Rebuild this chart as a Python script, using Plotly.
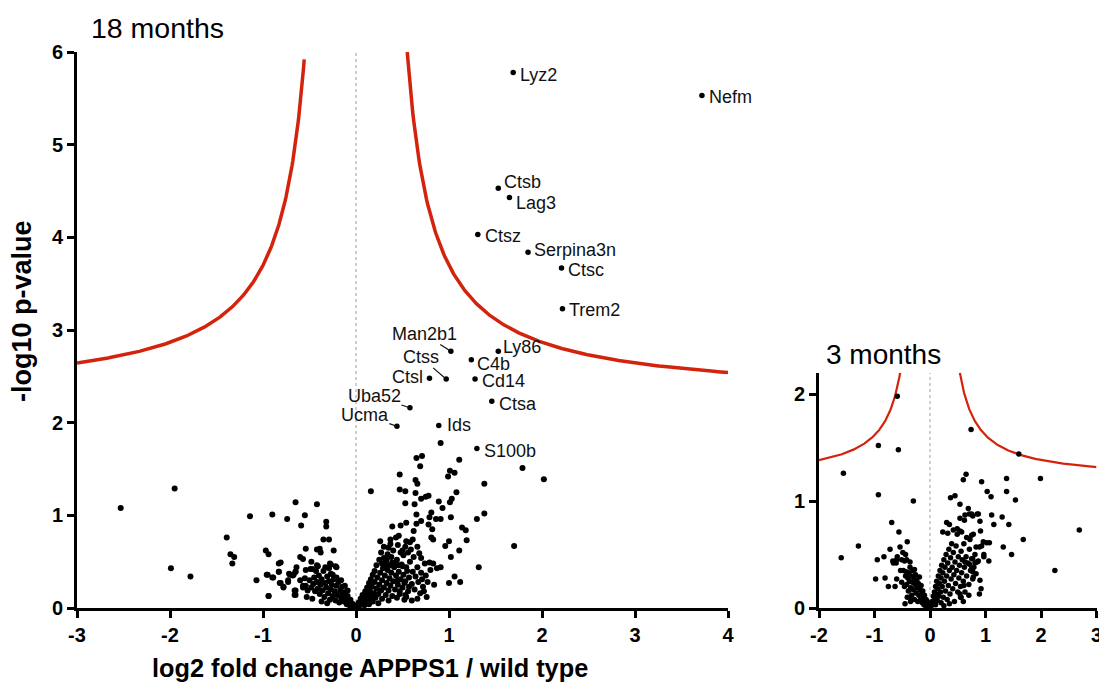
import numpy as np
import plotly.graph_objects as go

FONT = "Liberation Sans, Arial, Helvetica, sans-serif"
RED = "#d3230d"

# ---------------- 18 months: named, significant proteins ----------------
genes_18m = ["Lyz2", "Nefm", "Ctsb", "Lag3", "Ctsz", "Serpina3n", "Ctsc", "Trem2",
             "Man2b1", "Ly86", "C4b", "Ctss", "Ctsl", "Cd14", "Ctsa", "Uba52",
             "Ucma", "Ids", "S100b"]
lfc_genes_18m = [1.69, 3.72, 1.53, 1.65, 1.31, 1.85, 2.21, 2.22,
                 1.02, 1.53, 1.24, 0.97, 0.79, 1.28, 1.46, 0.58,
                 0.44, 0.89, 1.30]
nlp_genes_18m = [5.78, 5.53, 4.53, 4.43, 4.03, 3.84, 3.67, 3.23,
                 2.77, 2.77, 2.68, 2.47, 2.48, 2.47, 2.23, 2.16,
                 1.96, 1.97, 1.72]

# ---------------- 18 months: all other proteins ----------------
bg_18m = [
    # negative fold change
    (-2.53, 1.08), (-1.95, 1.29), (-1.99, 0.43), (-1.78, 0.34), (-1.39, 0.76),
    (-1.35, 0.58), (-1.31, 0.55), (-1.33, 0.48), (-1.14, 0.99), (-1.07, 0.30),
    (-0.97, 0.62), (-0.94, 0.58), (-0.90, 1.01), (-0.95, 0.36), (-0.90, 0.33),
    (-0.94, 0.13), (-0.83, 0.48), (-0.81, 0.49), (-0.83, 0.39), (-0.82, 0.27),
    (-0.78, 0.23), (-0.74, 0.96), (-0.73, 0.30), (-0.72, 0.37), (-0.67, 0.36),
    (-0.65, 1.14), (-0.65, 0.39), (-0.65, 0.19), (-0.65, 0.14), (-0.59, 0.89),
    (-0.60, 0.55), (-0.57, 0.53), (-0.55, 1.00), (-0.54, 0.64), (-0.54, 0.24),
    (-0.52, 0.19), (-0.48, 0.50), (-0.47, 0.42), (-0.42, 1.12), (-0.42, 0.63),
    (-0.39, 0.64), (-0.38, 0.60), (-0.42, 0.46), (-0.32, 0.93), (-0.32, 0.88),
    (-0.35, 0.74), (-0.29, 0.74), (-0.24, 0.62), (-0.28, 0.48), (-0.22, 0.45),
    (-0.64, 0.44), (-0.21, 0.44), (-0.54, 0.41), (-0.49, 0.42), (-0.41, 0.45),
    (-0.27, 0.47), (-0.96, 0.36), (-0.89, 0.33), (-0.83, 0.39), (-0.71, 0.36),
    (-0.68, 0.35), (-0.65, 0.39), (-0.73, 0.28), (-0.81, 0.27), (-0.78, 0.22),
    (-0.66, 0.19), (-0.57, 0.24), (-0.66, 0.14), (-0.94, 0.13),
    (-0.50, 0.30), (-0.48, 0.22), (-0.46, 0.26), (-0.45, 0.33), (-0.44, 0.18),
    (-0.42, 0.28), (-0.41, 0.21), (-0.40, 0.35), (-0.39, 0.15), (-0.38, 0.25),
    (-0.37, 0.31), (-0.36, 0.19), (-0.35, 0.40), (-0.34, 0.12), (-0.33, 0.27),
    (-0.32, 0.22), (-0.31, 0.34), (-0.30, 0.16), (-0.29, 0.29), (-0.28, 0.09),
    (-0.27, 0.37), (-0.27, 0.20), (-0.26, 0.25), (-0.25, 0.13), (-0.24, 0.31),
    (-0.23, 0.18), (-0.22, 0.08), (-0.21, 0.24), (-0.20, 0.14), (-0.19, 0.28),
    (-0.18, 0.06), (-0.17, 0.19), (-0.16, 0.11), (-0.15, 0.23), (-0.14, 0.15),
    (-0.13, 0.07), (-0.12, 0.17), (-0.11, 0.10), (-0.10, 0.04), (-0.09, 0.13),
    (-0.08, 0.07), (-0.07, 0.03), (-0.06, 0.09), (-0.05, 0.05), (-0.04, 0.02),
    (-0.03, 0.04), (-0.02, 0.01), (-0.53, 0.12), (-0.47, 0.10), (-0.43, 0.40),
    (-0.37, 0.07), (-0.33, 0.44), (-0.29, 0.43), (-0.25, 0.36), (-0.31, 0.05),
    (-0.21, 0.33), (-0.16, 0.30), (-0.12, 0.24), (-0.09, 0.19), (-0.60, 0.30),
    (-0.57, 0.22), (-0.55, 0.32),
    # positive fold change, upper part
    (0.91, 1.78), (0.65, 1.62), (0.71, 1.64), (0.69, 1.53), (1.11, 1.60),
    (1.01, 1.48), (1.06, 1.46), (0.47, 1.44), (1.79, 1.51), (2.02, 1.39),
    (0.99, 1.42), (0.64, 1.38), (0.66, 1.34), (0.16, 1.26), (0.47, 1.28),
    (0.53, 1.26), (0.64, 1.24), (1.08, 1.25), (0.53, 1.13), (0.63, 1.12),
    (0.70, 1.18), (0.75, 1.20), (0.78, 1.21), (0.89, 1.15), (1.03, 1.18),
    (1.01, 1.14), (0.93, 1.08), (0.65, 1.01), (0.81, 1.03), (0.79, 0.98),
    (0.86, 0.96), (0.91, 0.96), (1.02, 0.98), (1.38, 1.34), (1.30, 0.96),
    (1.38, 1.02), (0.39, 0.88), (0.48, 0.89), (0.54, 0.92), (0.65, 0.91),
    (0.70, 0.94), (0.62, 0.83), (0.78, 0.90), (0.82, 0.85), (1.14, 0.87),
    (1.18, 0.84), (0.81, 0.76), (0.83, 0.74), (0.26, 0.72), (0.37, 0.74),
    (0.43, 0.76), (0.46, 0.78), (0.35, 0.65), (0.37, 0.69), (0.54, 0.72),
    (0.58, 0.71), (0.61, 0.74), (0.53, 0.66), (0.59, 0.63), (0.48, 0.60),
    (0.51, 0.57), (0.66, 0.66), (0.68, 0.59), (0.70, 0.54), (0.96, 0.67),
    (1.00, 0.72), (1.19, 0.73), (1.02, 0.55), (1.11, 0.62), (1.70, 0.67),
    (1.32, 0.44), (1.06, 0.34), (1.00, 0.27), (1.12, 0.28), (0.74, 0.48),
    (0.79, 0.49), (0.83, 0.48), (0.80, 0.41), (0.87, 0.43), (0.91, 0.44),
    (0.71, 0.31), (0.84, 0.25), (0.69, 0.16), (0.54, 0.12), (0.44, 0.11),
    (0.30, 0.54), (0.33, 0.52), (0.28, 0.48), (0.32, 0.45), (0.36, 0.46),
    (0.39, 0.49), (0.43, 0.47), (0.46, 0.46), (0.50, 0.45), (0.54, 0.44),
    (0.45, 0.30), (0.52, 0.27), (0.57, 0.23), (0.47, 0.18), (0.53, 0.14),
    # positive fold change, dense region near zero
    (0.02, 0.02), (0.03, 0.06), (0.04, 0.03), (0.05, 0.10), (0.06, 0.05),
    (0.07, 0.14), (0.08, 0.08), (0.09, 0.03), (0.10, 0.18), (0.10, 0.11),
    (0.11, 0.06), (0.12, 0.22), (0.12, 0.14), (0.13, 0.09), (0.14, 0.27),
    (0.14, 0.04), (0.15, 0.18), (0.16, 0.12), (0.16, 0.31), (0.17, 0.23),
    (0.18, 0.07), (0.18, 0.36), (0.19, 0.16), (0.20, 0.28), (0.20, 0.40),
    (0.21, 0.11), (0.22, 0.21), (0.22, 0.46), (0.23, 0.33), (0.24, 0.05),
    (0.24, 0.15), (0.25, 0.25), (0.25, 0.52), (0.26, 0.38), (0.27, 0.19),
    (0.27, 0.60), (0.28, 0.10), (0.28, 0.30), (0.29, 0.43), (0.30, 0.22),
    (0.30, 0.66), (0.31, 0.35), (0.32, 0.14), (0.32, 0.50), (0.33, 0.27),
    (0.34, 0.41), (0.34, 0.58), (0.35, 0.08), (0.35, 0.19), (0.36, 0.32),
    (0.37, 0.24), (0.38, 0.55), (0.38, 0.38), (0.39, 0.13), (0.40, 0.29),
    (0.40, 0.62), (0.41, 0.44), (0.42, 0.20), (0.43, 0.35), (0.44, 0.52),
    (0.45, 0.25), (0.46, 0.39), (0.47, 0.15), (0.48, 0.31), (0.49, 0.47),
    (0.50, 0.22), (0.51, 0.36), (0.52, 0.09), (0.53, 0.29), (0.55, 0.40),
    (0.56, 0.18), (0.57, 0.33), (0.58, 0.50), (0.60, 0.26), (0.61, 0.39),
    (0.63, 0.20), (0.64, 0.34), (0.66, 0.44), (0.67, 0.28), (0.70, 0.38),
    (0.72, 0.23), (0.75, 0.35), (0.77, 0.28), (0.62, 0.55), (0.56, 0.60),
    (0.45, 0.68), (0.50, 0.62), (0.60, 0.08), (0.66, 0.10), (0.73, 0.18),
    (0.76, 0.12),
]

# ---------------- 3 months: all proteins ----------------
bg_3m = [
    (-1.56, 1.26), (-0.93, 1.52), (-0.57, 1.48), (-0.59, 1.98), (-0.93, 1.06),
    (-0.30, 1.00), (-1.60, 0.47), (-1.29, 0.58), (-0.69, 0.80), (-0.56, 0.71),
    (-0.41, 0.62), (-0.54, 0.57), (-0.72, 0.55), (-0.83, 0.48), (-0.95, 0.45),
    (-0.98, 0.27), (-0.81, 0.28), (-0.75, 0.20), (-0.63, 0.20), (-0.59, 0.48),
    (-0.49, 0.52), (-0.44, 0.50), (-0.66, 0.42), (-0.60, 0.45), (-0.51, 0.45),
    (-0.67, 0.44), (-0.61, 0.42), (-0.46, 0.44), (-0.42, 0.45), (-0.36, 0.43),
    (-0.60, 0.27), (-0.51, 0.24), (-0.53, 0.35), (-0.48, 0.35), (-0.43, 0.34),
    (-0.45, 0.04), (-0.37, 0.10),
    (-0.44, 0.30), (-0.42, 0.22), (-0.40, 0.28), (-0.39, 0.16), (-0.38, 0.33),
    (-0.37, 0.25), (-0.35, 0.19), (-0.34, 0.30), (-0.33, 0.12), (-0.32, 0.24),
    (-0.31, 0.35), (-0.30, 0.17), (-0.29, 0.28), (-0.28, 0.08), (-0.27, 0.22),
    (-0.26, 0.31), (-0.25, 0.14), (-0.24, 0.26), (-0.23, 0.19), (-0.22, 0.06),
    (-0.21, 0.23), (-0.20, 0.12), (-0.19, 0.29), (-0.18, 0.17), (-0.17, 0.08),
    (-0.16, 0.21), (-0.15, 0.13), (-0.14, 0.05), (-0.13, 0.16), (-0.12, 0.10),
    (-0.11, 0.03), (-0.10, 0.12), (-0.09, 0.07), (-0.08, 0.02), (-0.07, 0.08),
    (-0.06, 0.04), (-0.05, 0.06), (-0.04, 0.02), (-0.03, 0.03), (-0.02, 0.01),
    (-0.46, 0.20), (-0.41, 0.10), (-0.36, 0.38), (-0.28, 0.36), (-0.35, 0.06),
    (0.74, 1.67), (1.60, 1.44), (0.65, 1.25), (0.60, 1.20), (0.93, 1.18),
    (1.38, 1.21), (1.99, 1.21), (1.03, 1.09), (1.38, 1.09), (1.10, 1.04),
    (1.54, 1.01), (0.37, 1.03), (0.45, 1.05), (0.54, 0.97), (0.69, 0.93),
    (0.75, 0.88), (0.87, 0.88), (1.11, 0.87), (1.30, 0.85), (0.30, 0.80),
    (0.35, 0.78), (0.62, 0.82), (0.90, 0.81), (1.15, 0.78), (1.42, 0.78),
    (2.69, 0.73), (0.42, 0.73), (0.49, 0.74), (0.54, 0.84), (0.63, 0.87),
    (0.71, 0.88), (0.77, 0.86), (0.85, 0.88), (0.54, 0.72), (0.91, 0.72),
    (0.78, 0.69), (0.23, 0.71), (0.32, 0.70), (0.57, 0.71), (0.49, 0.69),
    (0.66, 0.66), (0.72, 0.64), (0.75, 0.68), (1.68, 0.64), (0.96, 0.62),
    (1.02, 0.61), (1.07, 0.61), (0.83, 0.57), (0.89, 0.57), (0.93, 0.58),
    (1.32, 0.57), (1.47, 0.50), (0.97, 0.50), (0.97, 0.48), (1.06, 0.44),
    (2.25, 0.35), (0.90, 0.26), (0.92, 0.18), (0.89, 0.13),
    (0.78, 0.29), (0.77, 0.34), (0.75, 0.37), (0.61, 0.21), (0.54, 0.13),
    (0.56, 0.10), (0.87, 0.44), (0.81, 0.42), (0.77, 0.46), (0.71, 0.41),
    (0.63, 0.43),
    (0.02, 0.02), (0.04, 0.06), (0.05, 0.03), (0.06, 0.11), (0.07, 0.05),
    (0.08, 0.15), (0.09, 0.09), (0.10, 0.20), (0.10, 0.03), (0.11, 0.13),
    (0.12, 0.25), (0.13, 0.07), (0.14, 0.18), (0.15, 0.30), (0.16, 0.11),
    (0.17, 0.23), (0.18, 0.35), (0.19, 0.15), (0.20, 0.28), (0.20, 0.05),
    (0.21, 0.40), (0.22, 0.20), (0.23, 0.33), (0.24, 0.10), (0.25, 0.45),
    (0.26, 0.25), (0.27, 0.38), (0.28, 0.16), (0.29, 0.50), (0.30, 0.30),
    (0.31, 0.08), (0.32, 0.42), (0.33, 0.21), (0.34, 0.55), (0.35, 0.35),
    (0.36, 0.13), (0.37, 0.47), (0.38, 0.27), (0.39, 0.60), (0.40, 0.38),
    (0.41, 0.18), (0.42, 0.52), (0.43, 0.31), (0.44, 0.06), (0.45, 0.43),
    (0.46, 0.23), (0.47, 0.58), (0.48, 0.35), (0.50, 0.15), (0.51, 0.48),
    (0.52, 0.28), (0.53, 0.40), (0.55, 0.20), (0.56, 0.53), (0.57, 0.33),
    (0.58, 0.45), (0.60, 0.25), (0.61, 0.60), (0.62, 0.38), (0.63, 0.15),
    (0.65, 0.48), (0.66, 0.30), (0.68, 0.42), (0.70, 0.22), (0.71, 0.55),
    (0.73, 0.35), (0.75, 0.46), (0.77, 0.27), (0.79, 0.38), (0.81, 0.50),
    (0.83, 0.32), (0.85, 0.43), (0.60, 0.06), (0.55, 0.10), (0.70, 0.12),
    (0.35, 0.04), (0.25, 0.02),
]

# significance cut-off curves: -log10 p = y0 + c / (|log2 FC| - s0)
cut_18m = dict(y0=2.26, c=1.05, s0=0.27)
cut_3m = dict(y0=1.20, c=0.328, s0=0.21)

x_ticks_18m = [-3, -2, -1, 0, 1, 2, 3, 4]
y_ticks_18m = [0, 1, 2, 3, 4, 5, 6]
x_ticks_3m = [-2, -1, 0, 1, 2, 3]
y_ticks_3m = [0, 1, 2]


def cutoff_branches(p, xmin, xmax, ytop):
    """Left and right branches of the cut-off curve, kept below ytop."""
    xs_edge = p["s0"] + p["c"] / (ytop - p["y0"])
    right = np.linspace(xs_edge, xmax, 300)
    left = np.linspace(xmin, -xs_edge, 300)
    f = lambda x: p["y0"] + p["c"] / (np.abs(x) - p["s0"])
    return (left, f(left)), (right, f(right))


def bold_ticks(vals):
    return [f"<b>{v}</b>" for v in vals]


fig = go.Figure()

# ---- 18 months panel ----
(lx, ly), _ = cutoff_branches(cut_18m, -3, 4, 5.92)
_, (rx, ry) = cutoff_branches(cut_18m, -3, 4, 6.0)
for bx, by in ((lx, ly), (rx, ry)):
    fig.add_trace(go.Scatter(x=bx, y=by, mode="lines", line=dict(color=RED, width=3.5),
                             xaxis="x", yaxis="y", hoverinfo="skip"))
fig.add_trace(go.Scatter(x=[p[0] for p in bg_18m], y=[p[1] for p in bg_18m],
                         mode="markers", marker=dict(color="black", size=6),
                         cliponaxis=False, xaxis="x", yaxis="y"))
fig.add_trace(go.Scatter(x=lfc_genes_18m, y=nlp_genes_18m, text=genes_18m,
                         mode="markers", marker=dict(color="black", size=5.5),
                         cliponaxis=False, xaxis="x", yaxis="y"))

# ---- 3 months panel ----
(lx3, ly3), (rx3, ry3) = cutoff_branches(cut_3m, -2, 3, 2.2)
for bx, by in ((lx3, ly3), (rx3, ry3)):
    fig.add_trace(go.Scatter(x=bx, y=by, mode="lines", line=dict(color=RED, width=2.2),
                             xaxis="x2", yaxis="y2", hoverinfo="skip"))
fig.add_trace(go.Scatter(x=[p[0] for p in bg_3m], y=[p[1] for p in bg_3m],
                         mode="markers", marker=dict(color="black", size=5.5),
                         cliponaxis=False, xaxis="x2", yaxis="y2"))

W, H = 1099, 684


def px_x(p):
    return p / W


def px_y(p):
    return 1 - p / H


axis_common = dict(
    showline=True, linecolor="black", linewidth=3, mirror=False,
    ticks="outside", ticklen=7, tickwidth=3, tickcolor="black",
    showgrid=False, zeroline=False, automargin=False,
    ticklabeloverflow="allow",
    tickfont=dict(family=FONT, size=20, color="black"),
    fixedrange=True,
)

fig.update_layout(
    template="none",
    width=W, height=H,
    margin=dict(l=0, r=0, t=0, b=0, autoexpand=False),
    paper_bgcolor="white", plot_bgcolor="white",
    showlegend=False,
    xaxis=dict(axis_common, domain=[px_x(77), px_x(728)], range=[-3, 4],
               tickvals=x_ticks_18m, ticktext=bold_ticks(x_ticks_18m), anchor="y"),
    yaxis=dict(axis_common, domain=[px_y(608), px_y(52)], range=[0, 6],
               tickvals=y_ticks_18m, ticktext=bold_ticks(y_ticks_18m), anchor="x"),
    xaxis2=dict(axis_common, domain=[px_x(819), px_x(1096.5)], range=[-2, 3],
                tickvals=x_ticks_3m, ticktext=bold_ticks(x_ticks_3m), anchor="y2"),
    yaxis2=dict(axis_common, domain=[px_y(608), px_y(372.7)], range=[0, 2.2],
                tickvals=y_ticks_3m, ticktext=bold_ticks(y_ticks_3m), anchor="x2"),
)

# dotted zero lines
fig.add_shape(type="line", xref="x", yref="y", x0=0, x1=0, y0=0, y1=6, layer="below",
              line=dict(color="#c4c4c4", width=1.6, dash="dot"))
fig.add_shape(type="line", xref="x2", yref="y2", x0=0, x1=0, y0=0, y1=2.2, layer="below",
              line=dict(color="#c4c4c4", width=1.6, dash="dot"))

# gene labels: (dx, dy) pixel offsets from the dot, or a leader line
label_style = {
    "Lyz2": dict(dx=6, dy=-2.7), "Nefm": dict(dx=6, dy=-1.7),
    "Ctsb": dict(dx=4.5, dy=6.6), "Lag3": dict(dx=5.5, dy=-5.6),
    "Ctsz": dict(dx=5.8, dy=-1.3), "Serpina3n": dict(dx=5.2, dy=1.7),
    "Ctsc": dict(dx=5.6, dy=-2.4), "Trem2": dict(dx=6, dy=-1.7),
    "Ly86": dict(dx=3.8, dy=4), "C4b": dict(dx=4.6, dy=-4.3),
    "Cd14": dict(dx=5.8, dy=-2), "Ctsa": dict(dx=5.9, dy=-2.3),
    "Ids": dict(dx=7.2, dy=0), "S100b": dict(dx=5.6, dy=-2.7),
    "Ctsl": dict(dx=-5.0, dy=0.7, right=True),
    "Man2b1": dict(ax=-26.7, ay=-17.4), "Ctss": dict(ax=-25.3, ay=-21.7),
    "Uba52": dict(ax=-35.5, ay=-12), "Ucma": dict(ax=-32, ay=-11.7),
}
label_font = dict(family=FONT, size=18, color="#111111")
for g, gx, gy in zip(genes_18m, lfc_genes_18m, nlp_genes_18m):
    st = label_style[g]
    if "ax" in st:
        fig.add_annotation(x=gx, y=gy, xref="x", yref="y", text=g, font=label_font,
                           showarrow=True, ax=st["ax"], ay=st["ay"], arrowhead=0,
                           arrowwidth=1.2, arrowcolor="#111111", standoff=1,
                           borderpad=0)
    else:
        fig.add_annotation(x=gx, y=gy, xref="x", yref="y", text=g, font=label_font,
                           showarrow=False,
                           xanchor="right" if st.get("right") else "left",
                           xshift=st["dx"], yshift=st["dy"], borderpad=0)

# panel titles
fig.add_annotation(x=px_x(89), y=px_y(28.5), xref="paper", yref="paper",
                   text="18 months", showarrow=False, xanchor="left", yanchor="middle",
                   font=dict(family=FONT, size=28.5, color="black"))
fig.add_annotation(x=px_x(824), y=px_y(354), xref="paper", yref="paper",
                   text="3 months", showarrow=False, xanchor="left", yanchor="middle",
                   font=dict(family=FONT, size=28, color="black"))

# axis titles
fig.add_annotation(x=px_x(370), y=px_y(668), xref="paper", yref="paper",
                   text="<b>log2 fold change APPPS1 / wild type</b>", showarrow=False,
                   xanchor="center", yanchor="middle",
                   font=dict(family=FONT, size=25.3, color="black"))
fig.add_annotation(x=px_x(22), y=px_y(311), xref="paper", yref="paper",
                   text="<b>-log10 p-value</b>", showarrow=False, textangle=-90,
                   xanchor="center", yanchor="middle",
                   font=dict(family=FONT, size=27, color="black"))

fig.write_html("out.html")
